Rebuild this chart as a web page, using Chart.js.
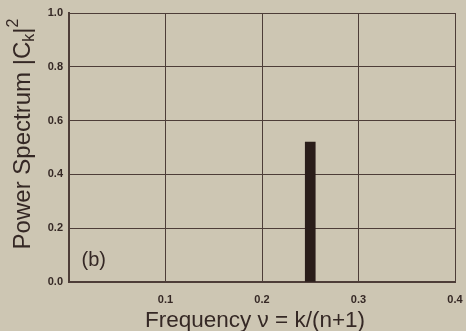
<!DOCTYPE html>
<html>
<head>
<meta charset="utf-8">
<script src="https://cdn.jsdelivr.net/npm/chart.js@4/dist/chart.umd.min.js"></script>
<style>
  html, body { margin: 0; padding: 0; background: #cdc6b3; }
  #wrap { width: 466px; height: 331px; }
</style>
</head>
<body>
<div id="wrap"><canvas id="spectrum" width="466" height="331"></canvas></div>
<script>
// values
const frequencies = [0.25];
const powers = [0.52];
const xTicks = [0.1, 0.2, 0.3, 0.4];
const yTicks = [0.0, 0.2, 0.4, 0.6, 0.8, 1.0];
const panelLabel = '(b)';
const xTitle = 'Frequency \u03bd = k/(n+1)';

const ink = '#352825';
const gridInk = '#4d3d38';

// axis titles (y has subscript k and superscript 2) and the panel label
const annotations = {
    id: 'annotations',
    afterDraw(c) {
        const ctx = c.ctx;
        ctx.save();
        ctx.fillStyle = ink;
        ctx.textBaseline = 'middle';

        // panel label
        ctx.font = '20px "Liberation Sans", Arial, sans-serif';
        ctx.textAlign = 'left';
        ctx.fillText(panelLabel, c.scales.x.getPixelForValue(0.013), c.scales.y.getPixelForValue(0.08));

        // x title
        ctx.font = '22.5px "Liberation Sans", Arial, sans-serif';
        ctx.textAlign = 'center';
        ctx.fillText(xTitle, 255, 321);

        // rotated y title
        ctx.textAlign = 'left';
        ctx.translate(23, 134);
        ctx.rotate(-Math.PI / 2);
        const big = '24px "Liberation Sans", Arial, sans-serif';
        const small = '16px "Liberation Sans", Arial, sans-serif';
        const parts = [
            { t: 'Power Spectrum |C', f: big, dy: 0 },
            { t: 'k', f: small, dy: 7 },
            { t: '|', f: big, dy: 0 },
            { t: '2', f: small, dy: -9 }
        ];
        let total = 0;
        parts.forEach(p => { ctx.font = p.f; p.w = ctx.measureText(p.t).width; total += p.w; });
        let x = -total / 2;
        parts.forEach(p => {
            ctx.font = p.f;
            ctx.fillText(p.t, x, p.dy);
            x += p.w;
        });
        ctx.restore();
    }
};

const ctx = document.getElementById('spectrum').getContext('2d');
new Chart(ctx, {
    type: 'bar',
    data: {
        datasets: [{
            data: frequencies.map((f, i) => ({ x: f, y: powers[i] })),
            backgroundColor: '#2a1d1a',
            barThickness: 10
        }]
    },
    options: {
        responsive: false,
        animation: false,
        layout: { padding: { top: 13, right: 11 } },
        plugins: { legend: { display: false }, tooltip: { enabled: false } },
        scales: {
            x: {
                type: 'linear',
                min: 0,
                max: 0.4,
                offset: false,
                afterBuildTicks: s => { s.ticks = [0].concat(xTicks).map(v => ({ value: v })); },
                afterFit: s => { s.height = 49; s.paddingRight = 0; s.paddingLeft = 0; },
                grid: { color: gridInk, lineWidth: 1, drawTicks: false, offset: false },
                border: { color: gridInk, width: 2 },
                ticks: {
                    color: ink,
                    padding: 11,
                    font: { family: '"Liberation Sans", Arial, sans-serif', size: 11, weight: 'bold' },
                    callback: v => v === 0 ? '' : v.toFixed(1)
                }
            },
            y: {
                min: 0,
                max: 1,
                afterBuildTicks: s => { s.ticks = yTicks.map(v => ({ value: v })); },
                afterFit: s => { s.width = 69; s.paddingTop = 0; s.paddingBottom = 0; },
                grid: { color: gridInk, lineWidth: 1, drawTicks: false },
                border: { color: gridInk, width: 2 },
                ticks: {
                    color: ink,
                    padding: 6,
                    font: { family: '"Liberation Sans", Arial, sans-serif', size: 11, weight: 'bold' },
                    callback: v => v.toFixed(1)
                }
            }
        }
    },
    plugins: [annotations]
});
</script>
</body>
</html>
